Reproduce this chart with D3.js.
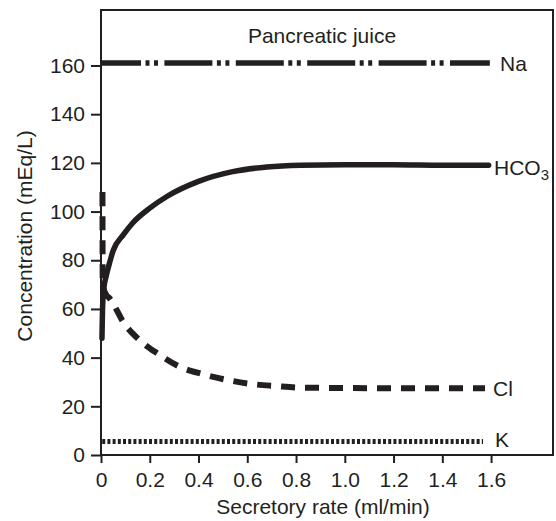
<!DOCTYPE html>
<html>
<head>
<meta charset="utf-8">
<script src="https://cdn.jsdelivr.net/npm/d3@7/dist/d3.min.js"></script>
<style>
  html, body { margin: 0; padding: 0; background: #fff; }
  svg { display: block; }
  text { font-family: "Liberation Sans", Arial, Helvetica, sans-serif; fill: #231f20; }
</style>
</head>
<body>
<svg id="chart" width="556" height="521"></svg>
<script>
// ---- data ----
const title = "Pancreatic juice";
const xTicks = [0, 0.2, 0.4, 0.6, 0.8, 1.0, 1.2, 1.4, 1.6];
const xTickLabels = ["0", "0.2", "0.4", "0.6", "0.8", "1.0", "1.2", "1.4", "1.6"];
const yTicks = [0, 20, 40, 60, 80, 100, 120, 140, 160];

const naX = [0, 1.595];
const naY = [161, 161];

const hco3X = [0.004, 0.007, 0.013, 0.02, 0.03, 0.05, 0.092, 0.13, 0.2, 0.27, 0.40, 0.54, 0.68, 0.82, 1.0, 1.2, 1.4, 1.59];
const hco3Y = [48, 62, 69.5, 73, 77, 84, 90.5, 95.3, 101.4, 106.2, 112.4, 116.4, 118.3, 119, 119.2, 119.2, 119, 119];

const clX = [0.006, 0.007, 0.02, 0.034, 0.048, 0.089, 0.157, 0.233, 0.322, 0.418, 0.514, 0.623, 0.72, 0.815, 1.0, 1.2, 1.4, 1.575];
const clY = [108, 70, 66, 64.5, 62.5, 55, 47.3, 41.6, 36.3, 33.2, 30.9, 29.1, 28.3, 27.7, 27.5, 27.4, 27.4, 27.4];

const kX = [0.005, 1.567];
const kY = [5.5, 5.5];

// ---- layout ----
const svg = d3.select("#chart");
const mLeft = 101, mTop = 10, mRight = 553, mBottom = 455;
const x = d3.scaleLinear().domain([0, 1.854]).range([mLeft, mRight]);
const y = d3.scaleLinear().domain([0, 182.8]).range([mBottom, mTop]);
const ink = "#231f20";
const fs = 21;

// frame
svg.append("rect")
  .attr("x", mLeft).attr("y", mTop)
  .attr("width", mRight - mLeft).attr("height", mBottom - mTop)
  .attr("fill", "none").attr("stroke", ink).attr("stroke-width", 2);

// axes
const xAxis = d3.axisBottom(x).tickValues(xTicks)
  .tickFormat((d, i) => xTickLabels[i]).tickSize(8).tickPadding(9);
const gx = svg.append("g").attr("transform", `translate(0,${mBottom})`).call(xAxis);
gx.select(".domain").remove();
gx.selectAll("line").attr("stroke", ink).attr("stroke-width", 2);
gx.selectAll("text").attr("font-size", fs).style("font-family", "'Liberation Sans', Arial, sans-serif").attr("fill", ink);

const yAxis = d3.axisLeft(y).tickValues(yTicks).tickSize(10).tickPadding(6);
const gy = svg.append("g").attr("transform", `translate(${mLeft},0)`).call(yAxis);
gy.select(".domain").remove();
gy.selectAll("line").attr("stroke", ink).attr("stroke-width", 2);
gy.selectAll("text").attr("font-size", fs).style("font-family", "'Liberation Sans', Arial, sans-serif").attr("fill", ink);

// axis titles
svg.append("text").attr("x", 323).attr("y", 514).attr("text-anchor", "middle")
  .attr("font-size", fs).text("Secretory rate (ml/min)");
svg.append("text").attr("transform", "translate(32,236) rotate(-90)")
  .attr("text-anchor", "middle").attr("font-size", fs).text("Concentration (mEq/L)");

// title
svg.append("text").attr("x", 322).attr("y", 43).attr("text-anchor", "middle")
  .attr("font-size", fs).text(title);

// lines
const line = d3.line().x(d => x(d[0])).y(d => y(d[1])).curve(d3.curveMonotoneX);
const zip = (a, b) => a.map((v, i) => [v, b[i]]);

svg.append("path").datum(zip(naX, naY)).attr("d", line)
  .attr("fill", "none").attr("stroke", ink).attr("stroke-width", 5.5)
  .attr("stroke-dasharray", "48,4.5,4,4.5,4,6.4").attr("stroke-dashoffset", 8);

svg.append("path").datum(zip(hco3X, hco3Y)).attr("d", line)
  .attr("fill", "none").attr("stroke", ink).attr("stroke-width", 5.5)
  .attr("stroke-linecap", "round");

svg.append("path").datum(zip(clX, clY)).attr("d", line)
  .attr("fill", "none").attr("stroke", ink).attr("stroke-width", 6)
  .attr("stroke-dasharray", "14,10");

svg.append("path").datum(zip(kX, kY)).attr("d", line)
  .attr("fill", "none").attr("stroke", ink).attr("stroke-width", 5)
  .attr("stroke-dasharray", "3,2.2");

// series labels
svg.append("text").attr("x", 500).attr("y", 70.5).attr("font-size", fs).text("Na");
const h = svg.append("text").attr("x", 494).attr("y", 175).attr("font-size", fs);
h.append("tspan").text("HCO");
h.append("tspan").attr("font-size", 15).attr("dy", 5).text("3");
svg.append("text").attr("x", 493).attr("y", 396).attr("font-size", fs).text("Cl");
svg.append("text").attr("x", 495).attr("y", 447).attr("font-size", fs).text("K");
</script>
</body>
</html>
